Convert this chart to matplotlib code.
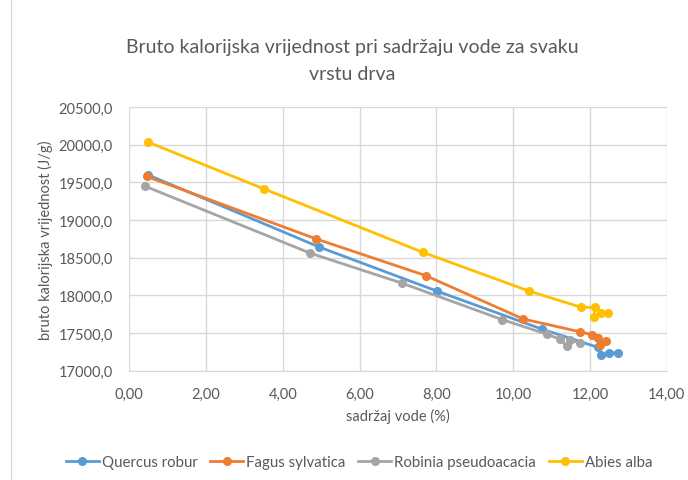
import matplotlib.pyplot as plt
from matplotlib.lines import Line2D
from matplotlib.ticker import FuncFormatter, MultipleLocator

plt.rcParams['font.family'] = ['Lato', 'DejaVu Sans']

# water content (%) and gross calorific value (J/g)
quercus_x = [0.48, 4.95, 8.02, 10.74, 12.20, 12.28, 12.50, 12.74]
quercus_y = [19600, 18640, 18055, 17553, 17310, 17210, 17235, 17235]

fagus_x = [0.45, 4.86, 7.72, 10.26, 11.73, 12.05, 12.21, 12.25, 12.28, 12.42]
fagus_y = [19578, 18750, 18262, 17686, 17517, 17477, 17430, 17335, 17370, 17390]

robinia_x = [0.40, 4.71, 7.11, 9.72, 10.89, 11.22, 11.40, 11.48, 11.75]
robinia_y = [19450, 18560, 18160, 17676, 17482, 17416, 17327, 17406, 17366]

abies_x = [0.48, 3.52, 7.65, 10.42, 11.78, 12.12, 12.11, 12.28, 12.46]
abies_y = [20035, 19410, 18570, 18055, 17840, 17840, 17716, 17766, 17766]

series = [
    ("Quercus robur", quercus_x, quercus_y, "#5B9BD5"),
    ("Fagus sylvatica", fagus_x, fagus_y, "#ED7D31"),
    ("Robinia pseudoacacia", robinia_x, robinia_y, "#A5A5A5"),
    ("Abies alba", abies_x, abies_y, "#FFC000"),
]

text_col = "#595959"
grid_col = "#D9D9D9"

fig = plt.figure(figsize=(6.88, 4.81), dpi=100)
ax = fig.add_axes([0.188, 0.2274, 0.781, 0.5481])

for name, xs, ys, col in series:
    ax.plot(xs, ys, color=col, lw=2, marker='o', markersize=5.5, label=name, zorder=3)

ax.set_xlim(0, 14)
ax.set_ylim(17000, 20500)
ax.xaxis.set_major_locator(MultipleLocator(2))
ax.yaxis.set_major_locator(MultipleLocator(500))
ax.xaxis.set_major_formatter(FuncFormatter(lambda v, p: f"{v:.2f}".replace('.', ',')))
ax.yaxis.set_major_formatter(FuncFormatter(lambda v, p: f"{v:.1f}".replace('.', ',')))
ax.grid(True, color=grid_col, lw=1, zorder=0)
ax.set_axisbelow(True)
for s in ['top', 'right', 'left']:
    ax.spines[s].set_visible(False)
ax.spines['bottom'].set_color(grid_col)
ax.tick_params(length=0, labelsize=10.5, labelcolor=text_col)
ax.tick_params(axis='y', pad=12)
ax.tick_params(axis='x', pad=12)

ax.set_xlabel("sadržaj vode (%)", fontsize=10.5, color=text_col, labelpad=5)
ax.set_ylabel("bruto kalorijska vrijednost (J/g)", fontsize=10.5, color=text_col, labelpad=4)

fig.text(0.512, 0.873, "Bruto kalorijska vrijednost pri sadržaju vode za svaku\nvrstu drva",
         ha='center', va='center', fontsize=14, color=text_col, linespacing=1.7)

handles = [Line2D([], [], color=c, lw=2, marker='o', markersize=5.5) for _, _, _, c in series]
fig.legend(handles, [s[0] for s in series], loc='center', bbox_to_anchor=(0.522, 0.037),
           ncol=4, frameon=False, fontsize=10.8, handlelength=2.2, handletextpad=0.2,
           columnspacing=0.85, labelcolor=text_col)

fig.add_artist(Line2D([11 / 688, 11 / 688], [0, 1], color=grid_col, lw=1))

fig.savefig("out.png", dpi=100)
